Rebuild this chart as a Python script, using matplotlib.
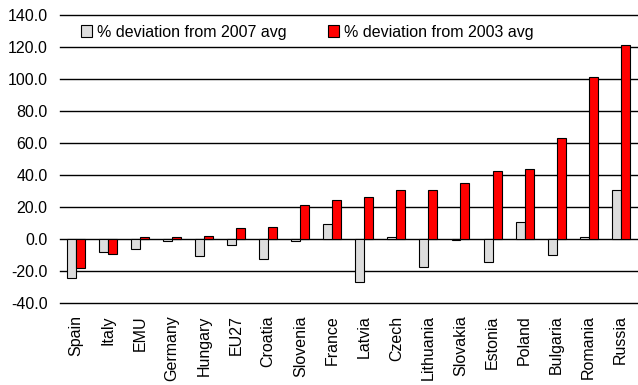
import numpy as np
import matplotlib
matplotlib.use("Agg")
import matplotlib.pyplot as plt

plt.rcParams['font.family'] = ['Liberation Sans', 'DejaVu Sans']

# Data
countries = ["Spain", "Italy", "EMU", "Germany", "Hungary", "EU27", "Croatia", "Slovenia",
             "France", "Latvia", "Czech", "Lithuania", "Slovakia", "Estonia", "Poland",
             "Bulgaria", "Romania", "Russia"]
dev_2007 = [-24.6, -7.9, -6.3, -1.0, -10.8, -3.8, -12.2, -1.0,
            9.4, -27.0, 1.0, -17.5, -0.5, -14.3, 10.7, -9.7, 1.5, 30.6]
dev_2003 = [-18.2, -9.3, 1.0, 1.2, 2.0, 7.1, 7.8, 21.0,
            24.4, 26.5, 30.4, 30.4, 35.2, 42.8, 43.8, 62.9, 101.3, 121.2]

fs = 11.5

fig = plt.figure(figsize=(6.38, 3.85), dpi=100)
ax = fig.add_axes([0.094, 0.213, 0.904, 0.748])

x = np.arange(len(countries))
w = 0.28
ax.bar(x - w / 2, dev_2007, w, color="#dddddd", edgecolor="black", linewidth=0.8,
       label="% deviation from 2007 avg", zorder=3)
ax.bar(x + w / 2, dev_2003, w, color="#ff0000", edgecolor="black", linewidth=0.8,
       label="% deviation from 2003 avg", zorder=3)

ax.set_xlim(-0.5, len(countries) - 0.5)
ax.set_ylim(-40, 140)
ax.set_yticks(np.arange(-40, 141, 20))
ax.set_yticklabels([f"{v:.1f}" for v in np.arange(-40, 141, 20)], fontsize=fs)
ax.set_xticks(x)
ax.set_xticklabels(countries, rotation=90, fontsize=fs)
ax.tick_params(axis="both", length=0)
ax.tick_params(axis="y", pad=9)
ax.tick_params(axis="x", pad=9)
ax.grid(axis="y", color="black", linewidth=1, zorder=0)
for gl in ax.get_ygridlines():
    gl.set_clip_on(False)
for s in ax.spines.values():
    s.set_visible(False)

ax.legend(loc="upper left", bbox_to_anchor=(0.02, 1.0), ncol=2, frameon=False,
          fontsize=fs, handlelength=0.7, handleheight=0.7, handletextpad=0.3,
          columnspacing=2.6, borderaxespad=0.2)

fig.savefig("out.png", dpi=100)
